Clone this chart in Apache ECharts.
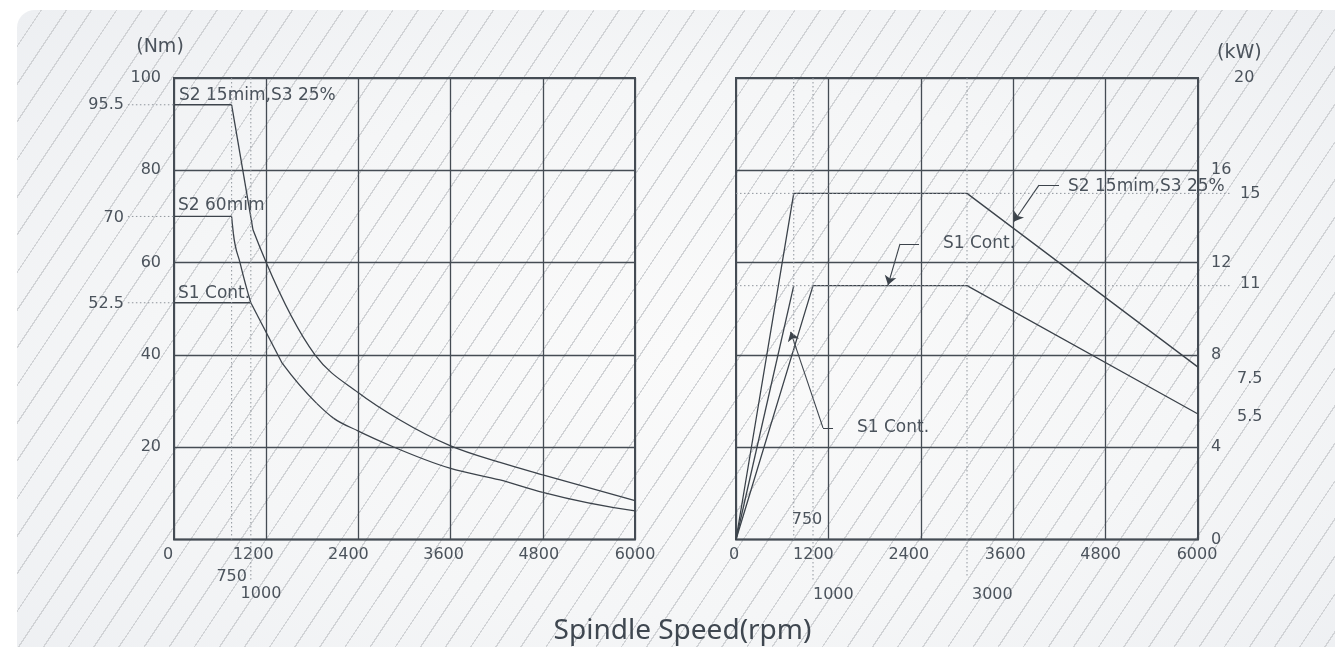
<!DOCTYPE html>
<html>
<head>
<meta charset="utf-8">
<script src="https://cdn.jsdelivr.net/npm/echarts@6/dist/echarts.min.js"></script>
<style>
  html, body { margin: 0; padding: 0; background: #ffffff; }
  #wrap { position: relative; width: 1335px; height: 647px; overflow: hidden; background: #ffffff; }
  #panel {
    position: absolute; left: 17px; top: 10px; width: 1340px; height: 680px;
    border-radius: 18px;
    background:
      repeating-linear-gradient(123.7deg, rgba(0,0,0,0) 0px, rgba(0,0,0,0) 19.6px, #d1d3d6 19.6px, #d1d3d6 20.9px),
      radial-gradient(ellipse at 50% 50%, #fafafa 0%, #f5f6f7 55%, #edeff2 100%);
  }
  #main { position: absolute; left: 0; top: 0; width: 1335px; height: 647px; }
</style>
</head>
<body>
<div id="wrap">
  <div id="panel"></div>
  <div id="main"></div>
</div>
<script>
// 轴刻度
var speedTicks = [0, 1200, 2400, 3600, 4800, 6000];
var leftXNudge = [-6, -13, -10, -7, -4, 0];
var rightXNudge = [-2, -15, -12, -8, -5, -1];

// 扭矩 (Nm) - 左图
var torqueS2_15Flat = [[0, 94.2], [750, 94.2]];
var torqueS2_15Steep = [[750, 94.2], [1028, 67.1]];
var torqueS2_15Curve = [[1028, 67.1], [1200, 60], [1835, 40], [2400, 31.8], [2941, 25.9], [3600, 20.3], [4243, 16.7], [4800, 14.0], [6000, 8.4]];
var torqueS2_60Flat = [[0, 70], [750, 70]];
var torqueS2_60Curve = [[750, 70], [772, 66.4], [859, 60], [1000, 51.3]];
var torqueS1Flat = [[0, 51.3], [1000, 51.3]];
var torqueS1Steep = [[1000, 51.3], [1408, 38.2]];
var torqueS1Curve = [[1408, 38.2], [1857, 29.5], [2075, 26.3], [2400, 23.5], [2851, 20.1], [3600, 15.4], [4243, 12.9], [4800, 10.2], [6000, 6.2]];

// 功率 (kW) - 右图
var powerS2_15 = [[0, 0], [750, 15], [3000, 15], [6000, 7.47]];
var powerS1A = [[0, 0], [750, 11]];
var powerS1B = [[0, 0], [1000, 11], [3000, 11], [6000, 5.44]];

// 标注引线：水平段 + 带箭头斜段
var leaderFlat = [
    [[4195, 15.36], [3935, 15.36]],
    [[2377, 12.81], [2130, 12.81]],
    [[1260, 4.84], [1130, 4.84]]
];
var leaderArrow = [
    [[3935, 15.36], [3610, 13.78]],
    [[2130, 12.81], [1974, 11.03]],
    [[1130, 4.84], [710, 9.0]]
];

var lineColor = '#3c434b';
var gridColor = '#454c54';
var textColor = '#4b535c';
var dotColor = '#8f959c';
var font = 'DejaVu Sans';

var myChart = echarts.init(document.getElementById('main'), null, { renderer: 'canvas' });

function xRich(nudge) {
    var rich = {};
    for (var i = 0; i < nudge.length; i++) {
        rich['n' + i] = {
            color: textColor, fontSize: 16, fontFamily: font,
            padding: [0, Math.max(0, -2 * nudge[i]), 0, Math.max(0, 2 * nudge[i])]
        };
    }
    return rich;
}

function xAxisOpt(grid, nudge) {
    return {
        type: 'value', gridIndex: grid, min: 0, max: 6000, interval: 1200,
        axisLine: { show: false }, axisTick: { show: false },
        splitLine: { show: true, lineStyle: { color: gridColor, width: 1.3 } },
        axisLabel: {
            margin: 7,
            formatter: function (v) {
                var i = speedTicks.indexOf(v);
                return '{n' + i + '|' + v + '}';
            },
            rich: xRich(nudge)
        }
    };
}

function lineSeries(data, xi) {
    return {
        type: 'line', xAxisIndex: xi, yAxisIndex: xi, data: data,
        showSymbol: false, symbol: 'none', smooth: false,
        silent: true,
        lineStyle: { color: lineColor, width: 1.3 }
    };
}

// 过数据点的平滑曲线（Hermite 三次段，斜率取三点抛物线估计）
function slopes(pts) {
    var n = pts.length, h = [], d = [], m = [];
    for (var i = 0; i < n - 1; i++) {
        h.push(pts[i + 1][0] - pts[i][0]);
        d.push((pts[i + 1][1] - pts[i][1]) / h[i]);
    }
    if (n === 2) return [d[0], d[0]];
    m[0] = ((2 * h[0] + h[1]) * d[0] - h[0] * d[1]) / (h[0] + h[1]);
    for (var j = 1; j < n - 1; j++) {
        m[j] = (d[j - 1] * h[j] + d[j] * h[j - 1]) / (h[j - 1] + h[j]);
    }
    var k = n - 2;
    m[n - 1] = ((2 * h[k] + h[k - 1]) * d[k] - h[k] * d[k - 1]) / (h[k] + h[k - 1]);
    return m;
}

function curveSeries(pts, xi) {
    return {
        type: 'custom', xAxisIndex: xi, yAxisIndex: xi, data: [[pts[0][0], pts[0][1]]],
        silent: true, clip: false,
        renderItem: function (params, api) {
            var m = slopes(pts), kids = [];
            for (var i = 0; i < pts.length - 1; i++) {
                var a = pts[i], b = pts[i + 1], h = b[0] - a[0];
                var p0 = api.coord(a), p3 = api.coord(b);
                var c1 = api.coord([a[0] + h / 3, a[1] + m[i] * h / 3]);
                var c2 = api.coord([b[0] - h / 3, b[1] - m[i + 1] * h / 3]);
                kids.push({
                    type: 'bezierCurve',
                    shape: { x1: p0[0], y1: p0[1], x2: p3[0], y2: p3[1], cpx1: c1[0], cpy1: c1[1], cpx2: c2[0], cpy2: c2[1] },
                    style: { fill: null, stroke: lineColor, lineWidth: 1.3 }
                });
            }
            return { type: 'group', children: kids };
        }
    };
}

function leaders(list, arrow) {
    var data = [];
    for (var i = 0; i < list.length; i++) data.push({ coords: list[i] });
    return {
        type: 'lines', coordinateSystem: 'cartesian2d', xAxisIndex: 1, yAxisIndex: 1,
        silent: true,
        symbol: arrow ? ['none', 'arrow'] : ['none', 'none'], symbolSize: 9,
        lineStyle: { color: lineColor, width: 1.1, opacity: 1, curveness: 0 },
        data: data
    };
}

var option = {
    backgroundColor: 'transparent',
    animation: false,
    textStyle: { fontFamily: font },
    grid: [
        { left: 174, top: 78, width: 461, height: 461.5, show: true, borderColor: gridColor, borderWidth: 2, backgroundColor: 'transparent' },
        { left: 736, top: 78, width: 462, height: 461.5, show: true, borderColor: gridColor, borderWidth: 2, backgroundColor: 'transparent' }
    ],
    xAxis: [xAxisOpt(0, leftXNudge), xAxisOpt(1, rightXNudge)],
    yAxis: [
        {
            type: 'value', gridIndex: 0, min: 0, max: 100, interval: 20,
            axisLine: { show: false }, axisTick: { show: false },
            splitLine: { show: true, lineStyle: { color: gridColor, width: 1.3 } },
            axisLabel: {
                color: textColor, fontSize: 16, fontFamily: font, margin: 13,
                formatter: function (v) { return v === 0 ? '' : v; }
            }
        },
        {
            type: 'value', gridIndex: 1, min: 0, max: 20, interval: 4, position: 'right',
            axisLine: { show: false }, axisTick: { show: false },
            splitLine: { show: true, lineStyle: { color: gridColor, width: 1.3 } },
            axisLabel: {
                color: textColor, fontSize: 16, fontFamily: font, margin: 13,
                formatter: function (v) { return v === 20 ? '{s|20}' : '' + v; },
                rich: { s: { color: textColor, fontSize: 16, fontFamily: font, padding: [0, 0, 0, 23] } }
            }
        }
    ],
    series: [
        lineSeries(torqueS2_15Flat, 0),
        lineSeries(torqueS2_15Steep, 0),
        curveSeries(torqueS2_15Curve, 0),
        lineSeries(torqueS2_60Flat, 0),
        curveSeries(torqueS2_60Curve, 0),
        lineSeries(torqueS1Flat, 0),
        lineSeries(torqueS1Steep, 0),
        curveSeries(torqueS1Curve, 0),
        lineSeries(powerS2_15, 1),
        lineSeries(powerS1A, 1),
        lineSeries(powerS1B, 1),
        leaders(leaderFlat, false),
        leaders(leaderArrow, true)
    ]
};

myChart.setOption(option);

// 虚线与文字注释（位置用坐标轴换算）
function px(g, p) { return myChart.convertToPixel({ gridIndex: g }, p); }

function dotted(g, a, b) {
    var p1 = px(g, a), p2 = px(g, b);
    return {
        type: 'line', silent: true, z: 5,
        shape: { x1: p1[0], y1: p1[1], x2: p2[0], y2: p2[1] },
        style: { stroke: dotColor, lineWidth: 1, lineDash: [1.5, 2.5] }
    };
}

function label(g, p, text, align, size, family) {
    var q = px(g, p);
    return {
        type: 'text', silent: true, z: 10, x: q[0], y: q[1],
        style: {
            text: text, fill: textColor,
            font: (size || 16) + 'px "' + (family || font) + '"',
            align: align || 'left', verticalAlign: 'middle',
            textAlign: align || 'left', textVerticalAlign: 'middle'
        }
    };
}

var graphics = [
    // 左图虚线
    dotted(0, [750, 100], [750, 0]),
    dotted(0, [1000, 100], [1000, -8.8]),
    dotted(0, [-600, 94.2], [0, 94.2]),
    dotted(0, [-600, 70], [0, 70]),
    dotted(0, [-600, 51.3], [0, 51.3]),
    // 右图虚线
    dotted(1, [750, 20], [750, 0]),
    dotted(1, [1000, 20], [1000, -1.77]),
    dotted(1, [3000, 20], [3000, -1.63]),
    dotted(1, [0, 15], [6416, 15]),
    dotted(1, [0, 11], [6416, 11]),

    // 左图文字
    label(0, [65, 96.2], 'S2 15mim,S3 25%', 'left', 17),
    label(0, [52, 72.3], 'S2 60mim', 'left', 17),
    label(0, [52, 53.2], 'S1 Cont.', 'left', 17),
    label(0, [-651, 94.2], '95.5', 'right'),
    label(0, [-651, 69.6], '70', 'right'),
    label(0, [-651, 51.0], '52.5', 'right'),
    label(0, [751, -8.1], '750', 'center'),
    label(0, [1132, -11.8], '1000', 'center'),
    label(0, [-182, 106.8], '(Nm)', 'center', 19),

    // 右图文字
    label(1, [4312, 15.3], 'S2 15mim,S3 25%', 'left', 17),
    label(1, [2688, 12.81], 'S1 Cont.', 'left', 17),
    label(1, [1571, 4.84], 'S1 Cont.', 'left', 17),
    label(1, [922, 0.84], '750', 'center'),
    label(1, [1000, -2.4], '1000', 'left'),
    label(1, [3065, -2.4], '3000', 'left'),
    label(1, [6545, 15.0], '15'),
    label(1, [6545, 11.1], '11'),
    label(1, [6506, 6.96], '7.5'),
    label(1, [6506, 5.3], '5.5'),
    label(1, [6247, 21.1], '(kW)', 'left', 19)
];

// 横轴标题
var tx = px(0, [6000, 0])[0] / 2 + px(1, [0, 0])[0] / 2;
graphics.push({
    type: 'text', silent: true, z: 10, x: tx - 3, y: 631,
    style: {
        text: 'Spindle Speed(rpm)', fill: '#3f4750',
        font: '28px "Noto Sans"',
        align: 'center', verticalAlign: 'middle',
        textAlign: 'center', textVerticalAlign: 'middle'
    }
});

myChart.setOption({ graphic: graphics });
</script>
</body>
</html>
